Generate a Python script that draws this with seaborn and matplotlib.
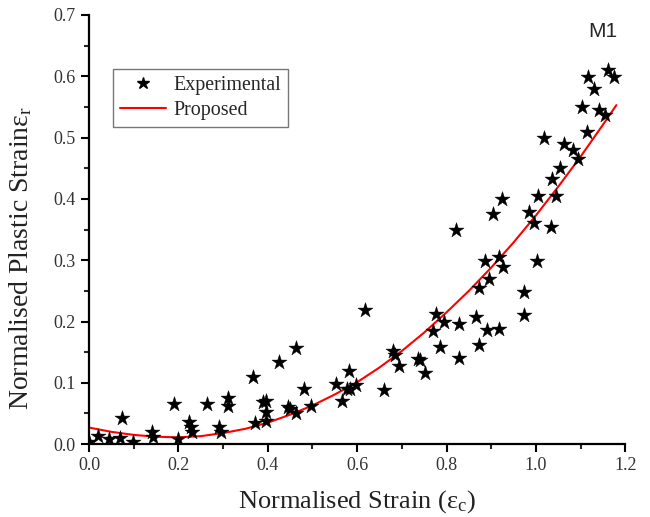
import numpy as np
import pandas as pd
import matplotlib
matplotlib.use('Agg')
import matplotlib.pyplot as plt
from matplotlib.lines import Line2D
from matplotlib.ticker import MultipleLocator, FormatStrFormatter
import seaborn as sns

# experimental points
exp_x = [0.00, 0.02, 0.045, 0.07, 0.074, 0.099, 0.141, 0.143, 0.19, 0.199,
         0.224, 0.228, 0.23, 0.264, 0.291, 0.295, 0.311, 0.311, 0.367, 0.372,
         0.39, 0.396, 0.396, 0.396, 0.425, 0.445, 0.45, 0.463, 0.463, 0.481,
         0.497, 0.553, 0.566, 0.577, 0.582, 0.584, 0.598, 0.618, 0.66, 0.68,
         0.685, 0.694, 0.736, 0.741, 0.752, 0.77, 0.777, 0.786, 0.795, 0.822,
         0.828, 0.828, 0.866, 0.873, 0.873, 0.886, 0.891, 0.896, 0.905, 0.918,
         0.918, 0.925, 0.926, 0.974, 0.974, 0.985, 0.996, 1.003, 1.005, 1.019,
         1.034, 1.036, 1.045, 1.054, 1.063, 1.084, 1.095, 1.104, 1.115, 1.117,
         1.13, 1.142, 1.155, 1.162, 1.175]
exp_y = [0.003, 0.013, 0.008, 0.010, 0.042, 0.003, 0.020, 0.012, 0.065, 0.008,
         0.036, 0.028, 0.020, 0.065, 0.028, 0.020, 0.075, 0.062, 0.110, 0.034,
         0.068, 0.070, 0.052, 0.038, 0.134, 0.061, 0.057, 0.157, 0.051, 0.090,
         0.062, 0.098, 0.070, 0.090, 0.119, 0.090, 0.096, 0.219, 0.088, 0.152,
         0.145, 0.127, 0.139, 0.137, 0.116, 0.185, 0.213, 0.158, 0.199, 0.349,
         0.196, 0.140, 0.207, 0.254, 0.161, 0.299, 0.186, 0.270, 0.375, 0.305,
         0.188, 0.400, 0.289, 0.248, 0.210, 0.378, 0.360, 0.299, 0.405, 0.499,
         0.354, 0.432, 0.405, 0.450, 0.489, 0.480, 0.465, 0.550, 0.509, 0.599,
         0.580, 0.545, 0.537, 0.610, 0.599]

# proposed curve, read at regular strain steps
fit_x = [0.00, 0.05, 0.10, 0.15, 0.20, 0.25, 0.30, 0.35, 0.40, 0.45, 0.50, 0.55,
         0.60, 0.65, 0.70, 0.75, 0.80, 0.85, 0.90, 0.95, 1.00, 1.05, 1.10, 1.15, 1.18]
fit_y = [0.027, 0.020, 0.015, 0.012, 0.011, 0.013, 0.018, 0.025, 0.035, 0.048, 0.063, 0.081,
         0.101, 0.125, 0.152, 0.182, 0.215, 0.250, 0.288, 0.329, 0.373, 0.420, 0.469, 0.521, 0.553]

df_exp = pd.DataFrame({'strain': exp_x, 'plastic': exp_y})
df_fit = pd.DataFrame({'strain': fit_x, 'plastic': fit_y})

sns.set_style('ticks')
plt.rcParams['font.family'] = ['Liberation Serif', 'DejaVu Serif']
plt.rcParams['mathtext.fontset'] = 'stix'

fig = plt.figure(figsize=(6.5, 5.17), dpi=100)
ax = fig.add_axes([0.137, 0.141, 0.825, 0.83])

sns.lineplot(data=df_fit, x='strain', y='plastic', color='#ff0000', linewidth=1.5, ax=ax, legend=False)
sns.scatterplot(data=df_exp, x='strain', y='plastic', marker='*', color='black', s=130,
                edgecolor='black', linewidth=0.3, ax=ax, legend=False, zorder=3)

ax.set_xlim(0, 1.2)
ax.set_ylim(0, 0.7)
ax.xaxis.set_major_locator(MultipleLocator(0.2))
ax.xaxis.set_minor_locator(MultipleLocator(0.1))
ax.yaxis.set_major_locator(MultipleLocator(0.1))
ax.yaxis.set_minor_locator(MultipleLocator(0.05))
ax.xaxis.set_major_formatter(FormatStrFormatter('%.1f'))
ax.yaxis.set_major_formatter(FormatStrFormatter('%.1f'))
ax.tick_params(which='major', direction='out', length=6, width=1.5, labelsize=13, colors='black')
ax.tick_params(which='minor', direction='out', length=3.5, width=1.5)
for s in ['left', 'bottom']:
    ax.spines[s].set_linewidth(1.6)
    ax.spines[s].set_color('black')
sns.despine(ax=ax)
for lab in ax.get_xticklabels() + ax.get_yticklabels():
    lab.set_color('#333333')

ax.set_xlabel('Normalised Strain (ε$\\mathregular{_c}$)', fontsize=19, color='#222222', labelpad=10)
ax.set_ylabel('Normalised Plastic Strainε$\\mathregular{_r}$', fontsize=20, color='#222222')
ax.yaxis.set_label_coords(-0.103, 0.434)

handles = [Line2D([], [], marker='*', color='black', linestyle='None', markersize=9),
           Line2D([], [], color='#ff0000', linewidth=1.5)]
leg = ax.legend(handles, ['Experimental', 'Proposed'], loc='upper left', bbox_to_anchor=(0.045, 0.875),
                borderaxespad=0, fontsize=14.4, frameon=True, fancybox=False, edgecolor='#555555',
                handlelength=2.3, handletextpad=0.35, borderpad=0.35, labelspacing=0.3)
leg.get_frame().set_linewidth(1.0)

ax.text(0.985, 0.984, 'M1', transform=ax.transAxes, ha='right', va='top',
        fontsize=15, family='Liberation Sans')

fig.savefig('out.png', dpi=100)
